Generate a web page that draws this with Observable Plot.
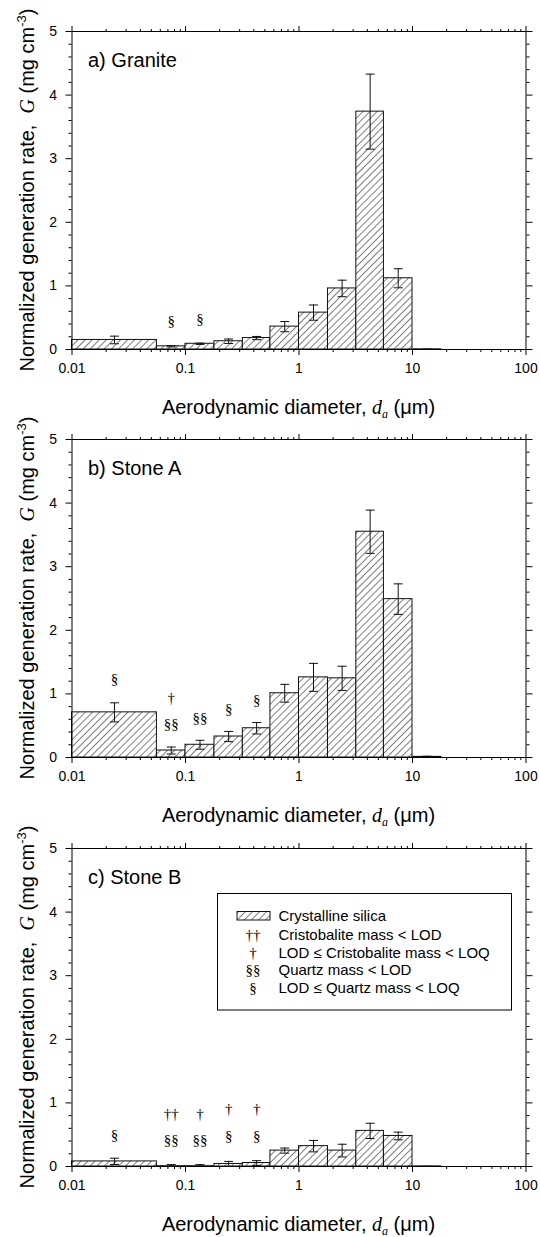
<!DOCTYPE html>
<html><head><meta charset="utf-8">
<script src="https://cdn.jsdelivr.net/npm/d3@7"></script>
<script src="https://cdn.jsdelivr.net/npm/@observablehq/plot@0.6"></script>
<style>
body{margin:0;background:#fff;}
#chart svg{display:block;}
</style></head><body>
<svg width="0" height="0" style="position:absolute">
<defs>
<pattern id="hatch" patternUnits="userSpaceOnUse" width="5" height="5" patternTransform="rotate(45)">
<rect x="-1" y="-1" width="7" height="7" fill="white"/>
<line x1="0" y1="-1" x2="0" y2="6" stroke="#000" stroke-width="1"/>
</pattern>
</defs></svg>
<div id="chart"></div>
<script>
// ---- data ----
const binLo = [0.01, 0.056, 0.1, 0.18, 0.32, 0.56, 1.0, 1.8, 3.2, 5.6, 10];
const binHi = [0.056, 0.1, 0.18, 0.32, 0.56, 1.0, 1.8, 3.2, 5.6, 10, 18];
const xTickValues = [0.01, 0.1, 1, 10, 100];
const xTickLabels = ["0.01", "0.1", "1", "10", "100"];
const yTickValues = [0, 1, 2, 3, 4, 5];

const graniteG  = [0.15, 0.05, 0.09, 0.13, 0.18, 0.36, 0.58, 0.96, 3.74, 1.12, 0.003];
const graniteSD = [0.06, 0.01, 0.01, 0.035, 0.025, 0.08, 0.12, 0.13, 0.59, 0.15, 0.003];
const stoneAG   = [0.71, 0.11, 0.20, 0.33, 0.46, 1.01, 1.26, 1.245, 3.55, 2.49, 0.01];
const stoneASD  = [0.15, 0.055, 0.07, 0.08, 0.09, 0.14, 0.22, 0.19, 0.34, 0.24, 0.01];
const stoneBG   = [0.08, 0.005, 0.005, 0.04, 0.055, 0.25, 0.32, 0.25, 0.56, 0.48, 0.002];
const stoneBSD  = [0.05, 0.025, 0.025, 0.04, 0.037, 0.04, 0.09, 0.1, 0.12, 0.06, 0.002];

// qualifier symbols: bin index, y position, glyph
const graniteMarks = [
  {bin: 1, y: 0.45, t: "§"}, {bin: 2, y: 0.47, t: "§"}
];
const stoneAMarks = [
  {bin: 0, y: 1.23, t: "§"},
  {bin: 1, y: 0.94, t: "†"}, {bin: 1, y: 0.53, t: "§§"},
  {bin: 2, y: 0.625, t: "§§"},
  {bin: 3, y: 0.766, t: "§"},
  {bin: 4, y: 0.906, t: "§"}
];
const stoneBMarks = [
  {bin: 0, y: 0.5, t: "§"},
  {bin: 1, y: 0.83, t: "††"}, {bin: 1, y: 0.42, t: "§§"},
  {bin: 2, y: 0.83, t: "†"}, {bin: 2, y: 0.42, t: "§§"},
  {bin: 3, y: 0.9, t: "†"}, {bin: 3, y: 0.47, t: "§"},
  {bin: 4, y: 0.9, t: "†"}, {bin: 4, y: 0.48, t: "§"}
];
const panelTitles = ["a) Granite", "b) Stone A", "c) Stone B"];
const legendBarLabel = "Crystalline silica";
const legendSymbols = ["††", "†", "§§", "§"];
const legendLabels = ["Cristobalite mass < LOD", "LOD ≤ Cristobalite mass < LOQ", "Quartz mass < LOD", "LOD ≤ Quartz mass < LOQ"];

// ---- drawing ----
const SANS = "Liberation Sans, Arial, Helvetica, sans-serif";
const SERIF = "Liberation Serif, Times New Roman, serif";
const minorX = [];
for (const dec of [0.01, 0.1, 1, 10]) for (let k = 2; k <= 9; k++) minorX.push(+(dec * k).toPrecision(3));
const minorY = [];
for (let i = 0; i < 25; i++) if (i % 5) minorY.push(i / 5);
const cap = {draw(ctx) { ctx.moveTo(-4.5, 0); ctx.lineTo(4.5, 0); }};
const blank = () => "";

function panel(title, G, SD, marks, height, mb, withLegend) {
  const rows = G.map((g, i) => ({
    lo: binLo[i], hi: binHi[i], g, y0: 0,
    xm: Math.sqrt(binLo[i] * binHi[i]),
    eLo: Math.max(0, g - SD[i]), eHi: g + SD[i]
  }));
  const mt = 31;
  const svg = Plot.plot({
    width: 540, height, marginTop: mt, marginBottom: mb, marginLeft: 71.5, marginRight: 14.5,
    style: {fontFamily: SANS, fontSize: "14px", color: "black", background: "white", overflow: "visible"},
    x: {type: "log", domain: [0.01, 100]},
    y: {domain: [0, 5]},
    marks: [
      Plot.rect(rows, {x1: "lo", x2: "hi", y1: "y0", y2: "g", fill: "url(#hatch)", stroke: "#111", strokeWidth: 1}),
      Plot.frame({stroke: "black", strokeWidth: 1}),
      Plot.ruleX(rows, {x: "xm", y1: "eLo", y2: "eHi", stroke: "#111", strokeWidth: 1}),
      Plot.dot(rows, {x: "xm", y: "eHi", symbol: cap, stroke: "#111", fill: "none", strokeWidth: 1}),
      Plot.dot(rows.filter(d => d.eLo > 0), {x: "xm", y: "eLo", symbol: cap, stroke: "#111", fill: "none", strokeWidth: 1}),
      Plot.text(marks, {x: d => Math.sqrt(binLo[d.bin] * binHi[d.bin]), y: "y", text: "t",
        fontFamily: SERIF, fontSize: 15, fill: "black", lineAnchor: "middle"}),
      Plot.text([title], {frameAnchor: "top-left", dx: 16, dy: 29, fontSize: 20, textAnchor: "start", lineAnchor: "middle", fill: "black"}),
      Plot.axisX({anchor: "bottom", ticks: xTickValues, tickFormat: d => xTickLabels[xTickValues.indexOf(d)], tickSize: 6, tickPadding: 8, label: null}),
      Plot.axisX({anchor: "bottom", ticks: minorX, tickFormat: blank, tickSize: 3, label: null}),
      Plot.axisX({anchor: "top", ticks: xTickValues, tickFormat: blank, tickSize: 6, label: null}),
      Plot.axisX({anchor: "top", ticks: minorX, tickFormat: blank, tickSize: 3, label: null}),
      Plot.axisY({anchor: "left", ticks: yTickValues, tickFormat: d => String(d), tickSize: 6, tickPadding: 9, label: null}),
      Plot.axisY({anchor: "left", ticks: minorY, tickFormat: blank, tickSize: 3, label: null}),
      Plot.axisY({anchor: "right", ticks: yTickValues, tickFormat: blank, tickSize: 6, label: null}),
      Plot.axisY({anchor: "right", ticks: minorY, tickFormat: blank, tickSize: 3, label: null})
    ]
  });
  const s = d3.select(svg);
  const plotBottom = height - mb;
  // x-axis title
  const xl = s.append("text").attr("x", 298.5).attr("y", plotBottom + 65)
    .attr("text-anchor", "middle").attr("font-size", 20).attr("font-family", SANS).attr("fill", "black");
  xl.append("tspan").text("Aerodynamic diameter, ");
  xl.append("tspan").attr("font-family", SERIF).attr("font-style", "italic").text("d");
  xl.append("tspan").attr("font-family", SERIF).attr("font-style", "italic").attr("font-size", 12).attr("dy", 4).text("a");
  xl.append("tspan").attr("dy", -4).text(" (μm)");
  // y-axis title
  const yl = s.append("text").attr("transform", `translate(34,${(mt + plotBottom) / 2}) rotate(-90)`)
    .attr("text-anchor", "middle").attr("font-size", 20).attr("font-family", SANS).attr("fill", "black");
  yl.append("tspan").text("Normalized generation rate,  ");
  yl.append("tspan").attr("font-family", SERIF).attr("font-style", "italic").text("G");
  yl.append("tspan").text(" (mg cm");
  yl.append("tspan").attr("font-size", 13).attr("dy", -8).text("-3");
  yl.append("tspan").attr("dy", 8).text(")");
  if (withLegend) {
    const lg = s.append("g").attr("font-family", SANS).attr("font-size", 15).attr("fill", "black")
      .attr("text-anchor", "start");
    lg.append("rect").attr("x", 217.5).attr("y", 76.5).attr("width", 294).attr("height", 116.5)
      .attr("fill", "white").attr("stroke", "black").attr("stroke-width", 1);
    lg.append("rect").attr("x", 237).attr("y", 94.5).attr("width", 33).attr("height", 8.5)
      .attr("fill", "url(#hatch)").attr("stroke", "#111").attr("stroke-width", 1);
    lg.append("text").attr("x", 278.5).attr("y", 99).attr("dy", "0.35em").attr("text-anchor", "start").text(legendBarLabel);
    legendLabels.forEach((lab, i) => {
      const y = 118 + i * 17.6;
      lg.append("text").attr("x", 253).attr("y", y).attr("dy", "0.35em").attr("text-anchor", "middle")
        .attr("font-family", SERIF).attr("fill", "black").text(legendSymbols[i]);
      lg.append("text").attr("x", 278.5).attr("y", y).attr("dy", "0.35em").attr("text-anchor", "start").text(lab);
    });
  }
  return svg;
}

const root = document.getElementById("chart");
root.appendChild(panel(panelTitles[0], graniteG, graniteSD, graniteMarks, 408, 59, false));
root.appendChild(panel(panelTitles[1], stoneAG, stoneASD, stoneAMarks, 409, 60, false));
root.appendChild(panel(panelTitles[2], stoneBG, stoneBSD, stoneBMarks, 420, 71, true));
</script>
</body></html>
